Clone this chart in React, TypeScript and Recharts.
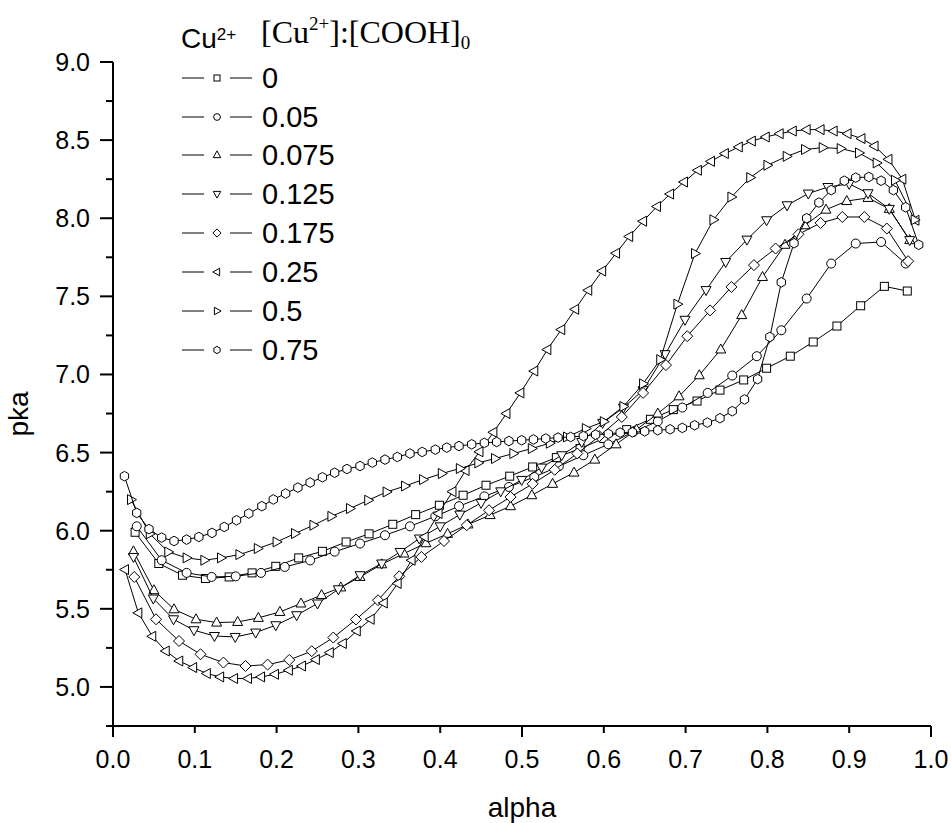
import React from "react";
import { ScatterChart, Scatter, XAxis, YAxis } from "recharts";

const W = 951;
const H = 823;

type Pt = [number, number];

// [alpha, pka]
const s0: Pt[] = [
  [0.027, 5.99], [0.056, 5.79], [0.085, 5.715], [0.113, 5.694], [0.142, 5.704], [0.17, 5.73],
  [0.199, 5.772], [0.227, 5.826], [0.256, 5.868], [0.285, 5.928], [0.313, 5.98], [0.342, 6.041],
  [0.37, 6.103], [0.399, 6.163], [0.428, 6.227], [0.456, 6.291], [0.485, 6.349], [0.513, 6.408],
  [0.542, 6.468], [0.571, 6.526], [0.6, 6.59], [0.628, 6.647], [0.657, 6.713], [0.685, 6.775],
  [0.714, 6.83], [0.742, 6.9], [0.771, 6.965], [0.799, 7.04], [0.828, 7.117], [0.856, 7.208],
  [0.885, 7.31], [0.914, 7.44], [0.943, 7.564], [0.971, 7.534],
];
const s005: Pt[] = [
  [0.029, 6.028], [0.0595, 5.811], [0.09, 5.73], [0.1206, 5.704], [0.15, 5.708], [0.181, 5.73],
  [0.21, 5.768], [0.241, 5.81], [0.271, 5.866], [0.302, 5.918], [0.3325, 5.971], [0.363, 6.028],
  [0.394, 6.092], [0.423, 6.157], [0.454, 6.22], [0.484, 6.28], [0.515, 6.344], [0.545, 6.412],
  [0.575, 6.483], [0.6055, 6.553], [0.636, 6.632], [0.666, 6.7], [0.696, 6.788], [0.727, 6.882],
  [0.757, 6.993], [0.787, 7.117], [0.817, 7.283], [0.848, 7.486], [0.878, 7.71], [0.908, 7.838],
  [0.939, 7.848], [0.969, 7.71],
];
const s0075: Pt[] = [
  [0.025, 5.868], [0.05, 5.619], [0.0746, 5.497], [0.1015, 5.433], [0.1267, 5.412], [0.1524, 5.416],
  [0.1777, 5.442], [0.204, 5.48], [0.2298, 5.534], [0.255, 5.588], [0.2785, 5.637], [0.302, 5.704],
  [0.3285, 5.785], [0.3557, 5.854], [0.3826, 5.92], [0.409, 5.98], [0.434, 6.04], [0.461, 6.1],
  [0.486, 6.157], [0.512, 6.227], [0.5374, 6.3], [0.5636, 6.372], [0.589, 6.455], [0.615, 6.553],
  [0.64, 6.647], [0.666, 6.75], [0.692, 6.86], [0.7167, 6.995], [0.743, 7.16], [0.7686, 7.38],
  [0.794, 7.624], [0.8215, 7.83], [0.846, 7.955], [0.8716, 8.055], [0.897, 8.11], [0.923, 8.13],
  [0.949, 8.06], [0.974, 7.86],
];
const s0125: Pt[] = [
  [0.025, 5.832], [0.0493, 5.566], [0.074, 5.433], [0.099, 5.363], [0.124, 5.326], [0.1494, 5.32],
  [0.1744, 5.348], [0.199, 5.395], [0.2245, 5.459], [0.25, 5.534], [0.2755, 5.625], [0.302, 5.715],
  [0.3285, 5.79], [0.351, 5.864], [0.3745, 5.95], [0.4, 6.028], [0.424, 6.103], [0.45, 6.178],
  [0.474, 6.252], [0.4996, 6.325], [0.524, 6.404], [0.5485, 6.483], [0.573, 6.568], [0.5986, 6.69],
  [0.624, 6.788], [0.648, 6.899], [0.675, 7.13], [0.6993, 7.35], [0.725, 7.54], [0.749, 7.72],
  [0.775, 7.863], [0.799, 7.987], [0.824, 8.083], [0.85, 8.158], [0.874, 8.2], [0.9, 8.22],
  [0.923, 8.16], [0.949, 8.06], [0.974, 7.86],
];
const s0175: Pt[] = [
  [0.026, 5.704], [0.0526, 5.433], [0.0807, 5.294], [0.107, 5.209], [0.135, 5.156], [0.162, 5.134],
  [0.189, 5.143], [0.2155, 5.173], [0.243, 5.229], [0.2693, 5.316], [0.297, 5.432], [0.324, 5.555],
  [0.35, 5.708], [0.377, 5.832], [0.4046, 5.934], [0.4324, 6.035], [0.4597, 6.131], [0.486, 6.216],
  [0.513, 6.3], [0.54, 6.39], [0.5676, 6.494], [0.5945, 6.605], [0.622, 6.728], [0.648, 6.882],
  [0.676, 7.06], [0.702, 7.245], [0.73, 7.41], [0.756, 7.56], [0.7836, 7.7], [0.81, 7.806],
  [0.838, 7.897], [0.865, 7.97], [0.8916, 8.008], [0.9185, 8.008], [0.946, 7.934], [0.972, 7.725],
];
const s025: Pt[] = [
  [0.0147, 5.751], [0.031, 5.474], [0.048, 5.324], [0.0645, 5.23], [0.081, 5.166], [0.098, 5.124],
  [0.1147, 5.086], [0.131, 5.064], [0.148, 5.054], [0.165, 5.054], [0.181, 5.064], [0.198, 5.081],
  [0.215, 5.107], [0.231, 5.134], [0.248, 5.175], [0.265, 5.22], [0.281, 5.278], [0.298, 5.358],
  [0.315, 5.433], [0.331, 5.537], [0.348, 5.662], [0.365, 5.811], [0.381, 5.96], [0.398, 6.11],
  [0.415, 6.25], [0.431, 6.385], [0.448, 6.505], [0.465, 6.63], [0.481, 6.75], [0.498, 6.882],
  [0.515, 7.022], [0.531, 7.159], [0.548, 7.287], [0.565, 7.417], [0.581, 7.539], [0.598, 7.662],
  [0.615, 7.776], [0.631, 7.883], [0.648, 7.981], [0.665, 8.075], [0.681, 8.155], [0.698, 8.232],
  [0.715, 8.307], [0.731, 8.364], [0.748, 8.414], [0.765, 8.456], [0.781, 8.494], [0.798, 8.52],
  [0.815, 8.541], [0.831, 8.558], [0.848, 8.567], [0.865, 8.567], [0.881, 8.558], [0.898, 8.541],
  [0.915, 8.51], [0.931, 8.462], [0.948, 8.377], [0.965, 8.25], [0.981, 7.987],
];
const s05: Pt[] = [
  [0.022, 6.199], [0.045, 5.98], [0.0676, 5.864], [0.09, 5.826], [0.1117, 5.811], [0.132, 5.826],
  [0.1545, 5.847], [0.177, 5.886], [0.2, 5.928], [0.2225, 5.982], [0.245, 6.035], [0.267, 6.092],
  [0.2897, 6.142], [0.312, 6.195], [0.3345, 6.248], [0.357, 6.286], [0.379, 6.327], [0.402, 6.366],
  [0.424, 6.398], [0.4466, 6.434], [0.467, 6.462], [0.4894, 6.494], [0.512, 6.526], [0.534, 6.56],
  [0.555, 6.6], [0.578, 6.654], [0.6, 6.698], [0.624, 6.795], [0.648, 6.94], [0.669, 7.095],
  [0.69, 7.45], [0.7115, 7.774], [0.734, 7.99], [0.756, 8.136], [0.779, 8.26], [0.8, 8.339],
  [0.8236, 8.396], [0.846, 8.44], [0.8676, 8.452], [0.8896, 8.446], [0.912, 8.418], [0.9336, 8.354],
  [0.956, 8.243], [0.98, 7.99],
];
const s075: Pt[] = [
  [0.014, 6.349], [0.029, 6.114], [0.044, 6.01], [0.0595, 5.956], [0.0746, 5.934], [0.09, 5.943],
  [0.105, 5.96], [0.121, 5.986], [0.136, 6.024], [0.151, 6.067], [0.166, 6.11], [0.182, 6.157],
  [0.196, 6.2], [0.211, 6.238], [0.226, 6.276], [0.241, 6.308], [0.256, 6.342], [0.271, 6.371],
  [0.286, 6.395], [0.302, 6.414], [0.317, 6.436], [0.3325, 6.455], [0.3476, 6.472], [0.363, 6.494],
  [0.378, 6.504], [0.394, 6.519], [0.408, 6.532], [0.423, 6.542], [0.4385, 6.553], [0.454, 6.562],
  [0.469, 6.568], [0.484, 6.574], [0.4996, 6.579], [0.514, 6.584], [0.529, 6.59], [0.544, 6.596],
  [0.5595, 6.6], [0.575, 6.606], [0.59, 6.615], [0.6055, 6.62], [0.62, 6.628], [0.635, 6.63],
  [0.65, 6.636], [0.666, 6.643], [0.681, 6.649], [0.696, 6.658], [0.711, 6.675], [0.7266, 6.692],
  [0.742, 6.72], [0.757, 6.765], [0.772, 6.84], [0.788, 6.97], [0.803, 7.24], [0.817, 7.59],
  [0.8325, 7.84], [0.848, 8.0], [0.863, 8.1], [0.878, 8.18], [0.894, 8.24], [0.908, 8.26],
  [0.924, 8.264], [0.939, 8.24], [0.954, 8.18], [0.969, 8.07], [0.985, 7.83],
];

const labels = ["0", "0.05", "0.075", "0.125", "0.175", "0.25", "0.5", "0.75"];
const kinds = ["square", "circle", "up", "down", "diamond", "left", "right", "hexagon"];
const allSeries = [s0, s005, s0075, s0125, s0175, s025, s05, s075];

const xTicks = [0, 0.1, 0.2, 0.3, 0.4, 0.5, 0.6, 0.7, 0.8, 0.9, 1.0];
const yTicks = [4.75, 5, 5.25, 5.5, 5.75, 6, 6.25, 6.5, 6.75, 7, 7.25, 7.5, 7.75, 8, 8.25, 8.5, 8.75, 9];

const SANS = "'Liberation Sans', Arial, sans-serif";
const SERIF = "'Liberation Serif', 'Times New Roman', serif";

function Marker({ cx, cy, kind, k = 1 }: { cx: number; cy: number; kind: string; k?: number }) {
  const common = { fill: "#fff", stroke: "#000", strokeWidth: 1 };
  const p = (pts: number[][]) => pts.map(([x, y]) => `${cx + x * k},${cy + y * k}`).join(" ");
  switch (kind) {
    case "square":
      return <rect x={cx - 4 * k} y={cy - 4 * k} width={8 * k} height={8 * k} {...common} />;
    case "circle":
      return <circle cx={cx} cy={cy} r={4.5 * k} {...common} />;
    case "up":
      return <polygon points={p([[0, -5.5], [5, 3.5], [-5, 3.5]])} {...common} />;
    case "down":
      return <polygon points={p([[0, 5.5], [5, -3.5], [-5, -3.5]])} {...common} />;
    case "left":
      return <polygon points={p([[-5.5, 0], [3.5, -5], [3.5, 5]])} {...common} />;
    case "right":
      return <polygon points={p([[5.5, 0], [-3.5, -5], [-3.5, 5]])} {...common} />;
    case "diamond":
      return <polygon points={p([[0, -5.5], [5.5, 0], [0, 5.5], [-5.5, 0]])} {...common} />;
    default: {
      const pts = [0, 1, 2, 3, 4, 5].map((i) => {
        const a = ((90 + 60 * i) * Math.PI) / 180;
        return [4.8 * Math.cos(a), 4.8 * Math.sin(a)];
      });
      return <polygon points={p(pts)} {...common} />;
    }
  }
}

const near = (a: number, b: number) => Math.abs(a - b) < 1e-6;

const XTick = (props: any) => {
  const { x, y, payload } = props;
  const v = payload.value as number;
  const big = near(v, 0) || near(v, 0.5) || near(v, 1);
  return (
    <g>
      <line x1={x} y1={y} x2={x} y2={y + (big ? 11 : 7)} stroke="#000" strokeWidth={2} />
      <text x={x} y={y + 42} textAnchor="middle" fontFamily={SANS} fontSize={25} fill="#000">
        {v.toFixed(1)}
      </text>
    </g>
  );
};

const YTick = (props: any) => {
  const { x, y, payload } = props;
  const v = payload.value as number;
  const major = near((v * 2) % 1, 0);
  return (
    <g>
      <line x1={x} y1={y} x2={x - (major ? 13 : 7)} y2={y} stroke="#000" strokeWidth={2} />
      {major && (
        <text x={x - 23} y={y + 9} textAnchor="end" fontFamily={SANS} fontSize={25} fill="#000">
          {v.toFixed(1)}
        </text>
      )}
    </g>
  );
};

const rowY = [78, 117, 155, 194, 233, 272, 311, 350];

function LegendOverlay() {
  return (
    <svg width={W} height={H} style={{ position: "absolute", left: 0, top: 0, pointerEvents: "none" }}>
      <text x={181} y={48} fontFamily={SANS} fontSize={28} fill="#000">
        Cu
        <tspan fontSize={17} dy={-8}>2+</tspan>
      </text>
      <text x={261} y={43} fontFamily={SERIF} fontSize={32} fill="#000">
        [Cu
        <tspan fontSize={19} dy={-13}>2+</tspan>
        <tspan dy={13}>]:[COOH]</tspan>
        <tspan fontSize={19} dy={6}>0</tspan>
      </text>
      {labels.map((l, i) => (
        <g key={l}>
          <line x1={182} y1={rowY[i]} x2={204} y2={rowY[i]} stroke="#000" strokeWidth={1} />
          <line x1={230} y1={rowY[i]} x2={252} y2={rowY[i]} stroke="#000" strokeWidth={1} />
          <Marker cx={217} cy={rowY[i]} kind={kinds[i]} k={0.75} />
          <text x={262} y={rowY[i] + 10} fontFamily={SANS} fontSize={29} fill="#000">
            {l}
          </text>
        </g>
      ))}
      <text x={522} y={817} textAnchor="middle" fontFamily={SANS} fontSize={28} fill="#000">
        alpha
      </text>
      <text
        transform="translate(27.5,414) rotate(-90)"
        textAnchor="middle"
        fontFamily={SANS}
        fontSize={28}
        fill="#000"
      >
        pka
      </text>
    </svg>
  );
}

export default function App() {
  return (
    <div style={{ position: "absolute", left: 0, top: 0, width: W, height: H, background: "#fff" }}>
      <ScatterChart width={W} height={H} margin={{ top: 62, right: 20, bottom: 0, left: 0 }}>
        <XAxis
          type="number"
          dataKey="x"
          domain={[0, 1]}
          ticks={xTicks}
          interval={0}
          height={97}
          tickSize={0}
          tickMargin={0}
          tickLine={false}
          axisLine={{ stroke: "#000", strokeWidth: 2 }}
          tick={<XTick />}
          allowDataOverflow
        />
        <YAxis
          type="number"
          dataKey="y"
          domain={[4.75, 9]}
          ticks={yTicks}
          interval={0}
          width={113}
          tickSize={0}
          tickMargin={0}
          tickLine={false}
          axisLine={{ stroke: "#000", strokeWidth: 2 }}
          tick={<YTick />}
          allowDataOverflow
        />
        {allSeries.map((pts, i) => (
          <Scatter
            key={labels[i]}
            name={labels[i]}
            data={pts.map(([x, y]) => ({ x, y }))}
            line={{ stroke: "#000", strokeWidth: 1 }}
            lineType="joint"
            isAnimationActive={false}
            shape={(p: any) => <Marker cx={p.cx} cy={p.cy} kind={kinds[i]} />}
          />
        ))}
      </ScatterChart>
      <LegendOverlay />
    </div>
  );
}
